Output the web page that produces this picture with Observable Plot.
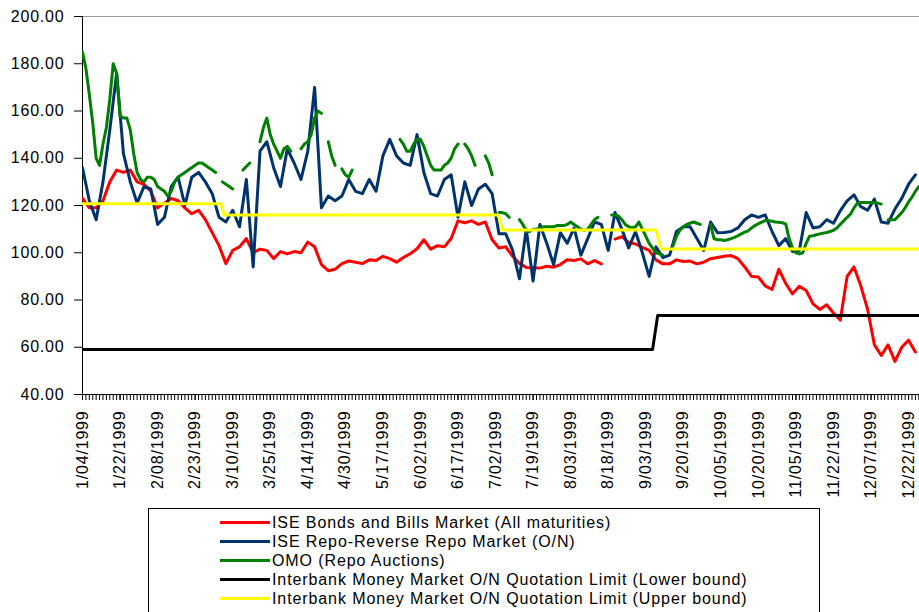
<!DOCTYPE html>
<html><head><meta charset="utf-8">
<script src="https://cdn.jsdelivr.net/npm/d3@7"></script>
<script src="https://cdn.jsdelivr.net/npm/@observablehq/plot@0.6"></script>
<style>
body{margin:0;width:919px;height:612px;overflow:hidden;background:#fff;font-family:"Liberation Sans",Arial,sans-serif;}
#chart{position:absolute;left:0;top:0;}
#legend{position:absolute;left:148px;top:508px;width:672px;height:112px;border:1px solid #000;box-sizing:border-box;background:#fff;}
.row{position:absolute;left:0;height:19px;display:flex;align-items:center;font-size:16px;letter-spacing:0.9px;white-space:nowrap;color:#000;}
.sw{width:50px;height:3px;margin-left:71px;margin-right:2px;}
</style></head><body>
<div id="chart"></div><div id="legend"></div>
<script>
// Trading-day category labels (one label every 11 trading days)
const xLabels = ["1/04/1999","1/22/1999","2/08/1999","2/23/1999","3/10/1999","3/25/1999","4/14/1999","4/30/1999","5/17/1999","6/02/1999","6/17/1999","7/02/1999","7/19/1999","8/03/1999","8/18/1999","9/03/1999","9/20/1999","10/05/1999","10/20/1999","11/05/1999","11/22/1999","12/07/1999","12/22/1999"];
const labelStep = 11;
const lastDay = 245;
const yTicks = [40, 60, 80, 100, 120, 140, 160, 180, 200];

// ISE Bonds and Bills Market (All maturities) - every 2nd trading day
const bondsBills = [
 123, 119, 119, 122, 130, 135, 134, 135, 130, 129,
 126, 119, 121, 123, 122, 119, 116.5, 118, 114, 108.5,
 103, 95.4, 101, 102.5, 106, 100, 101.5, 101, 97.5, 100.5,
 99.5, 100.5, 100, 104.5, 102.5, 95, 92.4, 93, 95.4, 96.5,
 96, 95.4, 97, 96.7, 98.5, 97.5, 96, 98, 99.6, 101.7,
 105.5, 101.5, 103, 102.5, 106, 113.5, 112.7, 113.5, 112, 113,
 105.5, 102, 102.5, 98.5, 95.5, 93.8, 93.5, 93.5, 94.3, 93.9,
 95, 97, 96.7, 97.4, 95.3, 96.7, 95.3, null, 105.8, 106.8,
 104.4, 103.7, 102.3, 101, 97, 95.3, 95.3, 97, 96.3, 96.5,
 95.3, 96, 97.5, 98, 98.5, 98.8, 97.5, 94, 90, 89.7,
 86, 84.5, 93, 87, 82.6, 85.8, 84, 78.4, 76, 78,
 74.5, 71.5, 90, 94, 86, 76, 61, 56.5, 61, 54,
 60, 63, 58
];

// ISE Repo-Reverse Repo Market (O/N) - every 2nd trading day
const repoON = [
 136, 122, 114, 130, 152, 176, 142, 130, 121, 128,
 127, 112, 115, 128, 132, 120, 132, 134, 130, 125,
 115, 113, 118, 111, 131, 94, 143, 147, 136, 128,
 144, 138, 131, 143, 170, 119, 124, 122, 124, 131,
 126, 125, 131, 126, 141, 148, 141, 138, 137, 150,
 134, 125, 124, 131, 133, 115, 130, 120, 127, 129,
 125, 108, 108, 101, 89, 110, 88, 112, 104, 95,
 108.5, 104, 110.5, 99, 106, 113, 112, 101, 117, 110,
 102, 109, 100, 90, 102.5, 98, 99, 109, 111, 111,
 106, 101, 113, 108.5, 108.6, 109, 110.5, 114, 116, 115,
 116, 109, 103, 106, 100.5, 101, 117, 110.5, 111, 114,
 112.5, 117.8, 122, 124.5, 119.5, 118, 122.7, 113, 112.5, 118.5,
 123, 129, 133
];

// OMO (Repo Auctions) - every trading day, null = no auction
const omoRepo = [
 185, 178, 167, 155, 140, 137, 146, 153, 165, 180,
 176, 158, 157, 157, 152, 142, 134, 131, 130, 132,
 132, 131, 128, 127, 126, 124, 126, 130, 132, 133,
 134, 135, 136, 137, 138, 138, 137, 136, 135, 134,
 null, 130, 129, 128, 127, null, null, 135, 136.5, 138,
 null, null, 147, 153, 157, 150, 146, 143, 140, 144,
 145, 143, null, null, 144, 146, 147, 150, 157, 160,
 159, null, 147, 141, 137, null, 135.5, 133, 132, 135,
 null, null, null, null, null, null, null, null, null, null,
 null, null, null, 148, 146, 143, 143, 146, 148, 148,
 145, 141, 137, 135, 135, 135, 137, 138, 140, 144,
 146, null, 146, 144, 141, 137, null, null, 141, 138,
 133, null, 117, 117, 116.5, 115, null, null, 114, 112,
 109, 109, 110, 110, 110.5, 111, 111, 111, 111, 111.5,
 111.5, 111.5, 112, 113, 112, 111, 110, 109.5, 110, 112,
 114, 115, null, null, null, 116, 116, 115.5, 114, 112,
 111, 110.5, 111, 113, 110, 107, 104, 102, 100, 99.5,
 99, null, null, 103, 107, 109.5, 111, 112, 112.5, 113,
 112.5, 112, null, null, 112, 106, 105.5, 105.5, 105.2, 105.5,
 106, 106.5, 107.2, 108, 108.7, 109.3, 110.5, 111.5, 112.3, 113,
 113.6, 113.6, 113.3, 113, 112.9, 112.7, 112.2, 106, 102, 100,
 99.5, 100, 104, 107, 107.2, 107.6, 108, 108.3, 108.6, 109,
 109.5, 110.5, 112, 113.5, 115, 116.4, 119, 121, 121.3, 121.3,
 121.3, 121.3, 121.3, 121, 120.6, null, 114, 114, 114, 115.5,
 117, 119, 121.5, 123.5, 126, 128
];

// Interbank Money Market O/N Quotation Limits (change points)
const lowerDay = [0, 167, 168.5, 245];
const lowerVal = [59, 59, 73.4, 73.4];
const upperDay = [0, 40.5, 41.5, 121.8, 123, 168, 169.5, 245];
const upperVal = [120.7, 120.7, 116, 116, 109.6, 109.6, 101.6, 101.6];

const seriesNames = [
 "ISE Bonds and Bills Market (All maturities)",
 "ISE Repo-Reverse Repo Market (O/N)",
 "OMO (Repo Auctions)",
 "Interbank Money Market O/N Quotation Limit (Lower bound)",
 "Interbank Money Market O/N Quotation Limit (Upper bound)"
];
const seriesColors = ["#ff0000", "#00336b", "#008000", "#000000", "#ffff00"];

const every2 = arr => arr.map((v, k) => ({day: k * 2, v}));
const every1 = arr => arr.map((v, k) => ({day: k, v}));
const pairs = (ds, vs) => ds.map((d, k) => ({day: d, v: vs[k]}));

const allDays = d3.range(0, lastDay + 1);
const labelDays = xLabels.map((_, k) => k * labelStep);

const lineOpts = (c) => ({x: "day", y: "v", stroke: c, strokeWidth: 3, clip: true});

const chart = Plot.plot({
  width: 919, height: 505,
  marginLeft: 82, marginRight: 0, marginTop: 16, marginBottom: 111,
  x: {domain: [0, 245.2], axis: null},
  y: {domain: [40, 200], axis: null},
  style: {fontFamily: '"Liberation Sans", Arial, sans-serif', fontSize: "16px", letterSpacing: "0.8px", color: "#000", background: "#fff", overflow: "visible"},
  marks: [
    Plot.ruleY([200], {stroke: "#999", strokeWidth: 1}),
    Plot.axisY({ticks: yTicks, tickSize: 8, tickPadding: 10, tickFormat: d3.format(".2f"), fontSize: 16, label: null}),
    Plot.axisX({ticks: allDays, tickSize: 6, tickFormat: () => "", label: null}),
    Plot.axisX({ticks: labelDays, tickSize: 6, tickPadding: 10, tickRotate: -90, fontSize: 16, label: null,
                tickFormat: d => xLabels[Math.round(d / labelStep)]}),
    Plot.ruleX([0], {stroke: "#000"}),
    Plot.ruleY([40], {stroke: "#000"}),
    Plot.line(every2(bondsBills), lineOpts(seriesColors[0])),
    Plot.line(every2(repoON), lineOpts(seriesColors[1])),
    Plot.line(every1(omoRepo), lineOpts(seriesColors[2])),
    Plot.line(pairs(lowerDay, lowerVal), lineOpts(seriesColors[3])),
    Plot.line(pairs(upperDay, upperVal), lineOpts(seriesColors[4]))
  ]
});
document.getElementById("chart").appendChild(chart);

const legend = document.getElementById("legend");
seriesNames.forEach((name, k) => {
  const row = document.createElement("div");
  row.className = "row";
  row.style.top = (4 + 19 * k) + "px";
  const sw = document.createElement("span");
  sw.className = "sw";
  sw.style.background = seriesColors[k];
  const tx = document.createElement("span");
  tx.textContent = name;
  row.appendChild(sw); row.appendChild(tx);
  legend.appendChild(row);
});
</script></body></html>
